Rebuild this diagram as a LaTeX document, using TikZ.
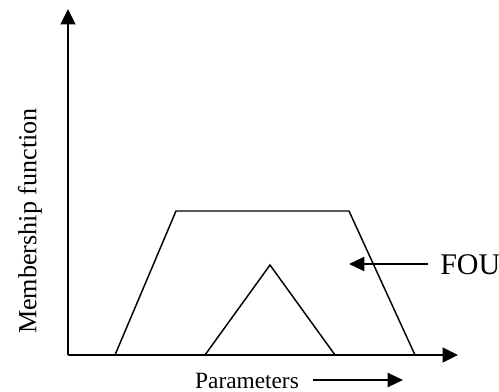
\documentclass[tikz,border=0pt]{standalone}
\usepackage{fontspec}
\setmainfont{Liberation Serif}
\usetikzlibrary{arrows.meta}
\begin{document}
\begin{tikzpicture}[x=0.75pt,y=-0.75pt,
    axis/.style = {line width=1.6pt, -{Triangle[length=11.5pt,width=11pt]}},
    outline/.style = {line width=1.1pt},
    pointer/.style = {line width=1.6pt, -{Triangle[length=11.5pt,width=10.5pt]}},
    lbl/.style = {inner sep=0pt}]
        \useasboundingbox (0,0) rectangle (499,392);
        \coordinate (o) at (68,355);
        \coordinate (ytip) at (68,9);
        \coordinate (xtip) at (458,355);
        \draw[axis] (o) -- (ytip);
        \draw[axis] (o) -- (xtip);
        % footprint of uncertainty
        \coordinate (t1) at (115,355);
        \coordinate (t2) at (176,211);
        \coordinate (t3) at (349,211);
        \coordinate (t4) at (415,355);
        \draw[outline] (t1) -- (t2) -- (t3) -- (t4);
        \coordinate (a1) at (205,355);
        \coordinate (a2) at (270,265);
        \coordinate (a3) at (335,355);
        \draw[outline] (a1) -- (a2) -- (a3);
        % labels
        \node[lbl, anchor=west, font=\fontsize{22.5}{26}\selectfont] (fou) at (440,265) {FOU};
        \coordinate (foutip) at (349,264);
        \coordinate (foustart) at (428,264);
        \draw[pointer] (foustart) -- (foutip);
        \node[lbl, font=\fontsize{17.5}{20}\selectfont] (par) at (247,381) {Parameters};
        \coordinate (pstart) at (313,380);
        \coordinate (ptip) at (403,380);
        \draw[pointer] (pstart) -- (ptip);
        \node[lbl, rotate=90, font=\fontsize{19.6}{22}\selectfont] (mem) at (30,221) {Membership function};
\end{tikzpicture}
\end{document}
